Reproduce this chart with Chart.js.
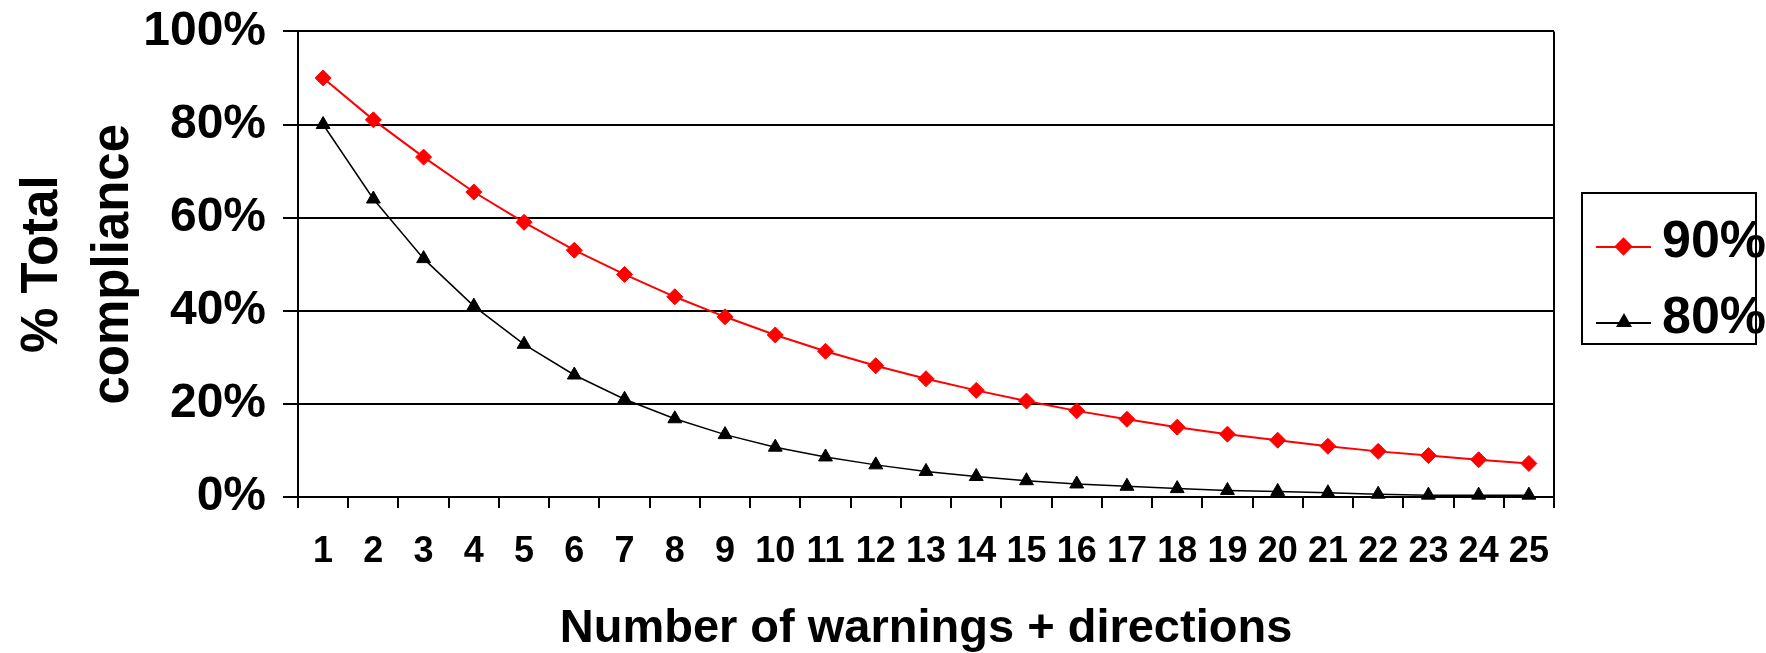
<!DOCTYPE html>
<html>
<head>
    <title>Total compliance</title>
    <style>
        body { margin: 0; background: #fff; }
        .wrap { position: relative; width: 1766px; height: 653px; }
        #legend { position: absolute; left: 1581px; top: 192px; width: 176px; height: 153px; box-sizing: border-box;
                  border: 2px solid #000; padding-top: 15px; background: #fff; }
        .row { position: relative; height: 76px; }
        .row .line { position: absolute; left: 13px; top: 37px; width: 55px; height: 2px; }
        .row .mark { position: absolute; }
        .row .txt { position: absolute; left: 79px; top: 0; line-height: 76px;
                    font: bold 52px 'Liberation Sans Narrow', 'Arial Narrow', sans-serif; color: #000; }
    </style>
</head>
<body>
<div class="wrap">
    <canvas id="chart"></canvas>
    <div id="legend"></div>
</div>
<script src="https://cdn.jsdelivr.net/npm/chart.js"></script>
<script>
    // data
    const categories = ['1','2','3','4','5','6','7','8','9','10','11','12','13','14','15','16','17','18','19','20','21','22','23','24','25'];
    const series90 = [90, 81, 73, 65.5, 59, 53, 47.8, 43, 38.7, 34.8, 31.3, 28.2, 25.4, 22.9, 20.6, 18.5, 16.7, 15, 13.5, 12.2, 10.9, 9.8, 8.9, 8, 7.2];
    const series80 = [80, 64, 51.2, 41, 32.8, 26.2, 21, 16.8, 13.4, 10.7, 8.6, 6.9, 5.5, 4.4, 3.5, 2.8, 2.3, 1.8, 1.4, 1.2, 0.9, 0.6, 0.4, 0.4, 0.4];
    const seriesNames = ['90%', '80%'];
    const yTickStep = 20;

    const narrow = "'Liberation Sans Narrow', 'Arial Narrow', sans-serif";
    const sans = "'Liberation Sans', Arial, sans-serif";

    // right edge of the plot frame
    const frame = {
        id: 'frame',
        beforeDatasetsDraw(chart) {
            const a = chart.chartArea, ctx = chart.ctx;
            ctx.save();
            ctx.strokeStyle = '#000';
            ctx.lineWidth = 2;
            ctx.beginPath();
            ctx.moveTo(a.right, a.top);
            ctx.lineTo(a.right, a.bottom);
            ctx.stroke();
            ctx.restore();
        }
    };

    const chart = new Chart(document.getElementById('chart'), {
        type: 'line',
        data: {
            labels: categories,
            datasets: [
                { label: seriesNames[0], data: series90, borderColor: '#ff0000', backgroundColor: '#ff0000',
                  borderWidth: 2, pointStyle: 'rectRot', pointRadius: 8, pointBorderWidth: 1, tension: 0, clip: false },
                { label: seriesNames[1], data: series80, borderColor: '#000', backgroundColor: '#000',
                  borderWidth: 1.5, pointStyle: 'triangle', pointRadius: 8, pointBorderWidth: 1, tension: 0, clip: false }
            ]
        },
        options: {
            responsive: true,
            maintainAspectRatio: false,
            animation: false,
            layout: { padding: { top: 28, right: 212, bottom: 0, left: 0 } },
            plugins: { legend: { display: false }, tooltip: { enabled: false } },
            scales: {
                x: {
                    offset: true,
                    grid: { offset: true, drawOnChartArea: false, tickLength: 11, color: '#000', lineWidth: 2 },
                    border: { display: true, color: '#000', width: 2 },
                    ticks: { color: '#000', font: { family: narrow, size: 36, weight: 'bold' }, padding: 22, maxRotation: 0, autoSkip: false },
                    title: { display: true, text: 'Number of warnings + directions', color: '#000',
                             font: { family: sans, size: 47, weight: 'bold', lineHeight: 1 }, padding: { top: 0, bottom: 0 } },
                    afterFit: s => { s.height = 156; }
                },
                y: {
                    min: 0, max: 100,
                    grid: { color: '#000', lineWidth: 2, tickLength: 15 },
                    border: { display: true, color: '#000', width: 2 },
                    ticks: { stepSize: yTickStep, callback: v => v + '%', color: '#000', padding: 17,
                             font: { family: narrow, size: 48, weight: 'bold', lineHeight: 0.6 } },
                    title: { display: true, text: ['% Total', 'compliance'], color: '#000',
                             font: { family: sans, size: 51, weight: 'bold', lineHeight: 1.4 }, padding: { top: 7, bottom: 0 } },
                    afterFit: s => { s.width = 298; }
                }
            }
        },
        plugins: [frame]
    });

    // legend box: line + marker + label, like the original
    const legend = document.getElementById('legend');
    chart.data.datasets.forEach(ds => {
        const row = document.createElement('div');
        row.className = 'row';
        const line = document.createElement('div');
        line.className = 'line';
        line.style.background = ds.borderColor;
        row.appendChild(line);
        const mark = document.createElement('div');
        mark.className = 'mark';
        if (ds.pointStyle === 'rectRot') {
            Object.assign(mark.style, { left: '34px', top: '31px', width: '13px', height: '13px',
                background: ds.backgroundColor, transform: 'rotate(45deg)' });
        } else {
            Object.assign(mark.style, { left: '33px', top: '28px', width: 0, height: 0,
                borderLeft: '8px solid transparent', borderRight: '8px solid transparent',
                borderBottom: '14px solid ' + ds.backgroundColor });
        }
        row.appendChild(mark);
        const txt = document.createElement('div');
        txt.className = 'txt';
        txt.textContent = ds.label;
        row.appendChild(txt);
        legend.appendChild(row);
    });
</script>
</body>
</html>
